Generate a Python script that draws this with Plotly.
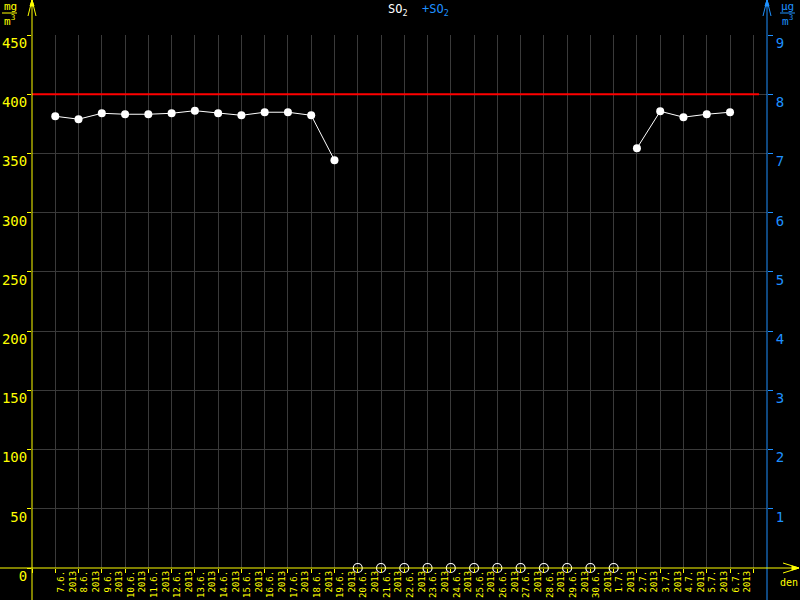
import plotly.graph_objects as go

# ---- data ----
dates = ["7.6.", "8.6.", "9.6.", "10.6.", "11.6.", "12.6.", "13.6.", "14.6.", "15.6.",
         "16.6.", "17.6.", "18.6.", "19.6.", "20.6.", "21.6.", "22.6.", "23.6.", "24.6.",
         "25.6.", "26.6.", "27.6.", "28.6.", "29.6.", "30.6.", "1.7.", "2.7.", "3.7.",
         "4.7.", "5.7.", "6.7."]
year = "2013"
so2 = [381.4, 378.9, 383.9, 383.1, 383.1, 383.9, 386.1, 383.9, 382.2, 384.8, 384.8,
       382.2, 344.3, None, None, None, None, None, None, None, None, None, None, None,
       None, 354.4, 385.6, 380.6, 383.1, 384.8]
limit = 400
left_ticks = [0, 50, 100, 150, 200, 250, 300, 350, 400, 450]
right_ticks = [1, 2, 3, 4, 5, 6, 7, 8, 9]

# ---- style ----
YEL = "#ffff00"
BLUE = "#1e90ff"
GRID = "#3a3a3a"
FONT = "DejaVu Sans Mono"

L, R, T, B = 32, 33, 35, 32
W, H = 800, 600
PW, PH = W - L - R, H - T - B


def px(x):
    return (x - L) / PW


def py(y):
    return (H - B - y) / PH


idx = list(range(len(dates)))
missing = [i for i, v in enumerate(so2) if v is None]

fig = go.Figure()
fig.add_trace(go.Scatter(
    x=idx, y=so2, mode="lines+markers", connectgaps=False,
    line=dict(color="white", width=1),
    marker=dict(color="white", size=8),
    hoverinfo="skip"))
fig.add_trace(go.Scatter(
    x=missing, y=[0] * len(missing), mode="markers", cliponaxis=False,
    marker=dict(symbol="circle-open", color="white", size=9, line=dict(width=1.2, color="white")),
    hoverinfo="skip"))
# empty trace so the right-hand axis gets drawn
fig.add_trace(go.Scatter(x=[None], y=[None], yaxis="y2", mode="markers", hoverinfo="skip"))

shapes = []
# limit line
shapes.append(dict(type="line", xref="x", yref="y", x0=-1, x1=30.25, y0=limit, y1=limit,
                   line=dict(color="#ff0000", width=2), layer="above"))
# axes lines extending beyond plot
shapes.append(dict(type="line", xref="paper", yref="paper", x0=px(32), x1=px(32), y0=py(0), y1=py(600),
                   line=dict(color=YEL, width=1)))
shapes.append(dict(type="line", xref="paper", yref="paper", x0=px(767), x1=px(767), y0=py(0), y1=py(600),
                   line=dict(color=BLUE, width=1)))
shapes.append(dict(type="line", xref="paper", yref="paper", x0=px(0), x1=px(797), y0=py(568), y1=py(568),
                   line=dict(color=YEL, width=1)))


def arrow_up(cx, color):
    p = "M {a},{b} L {c},{d} L {e},{f}".format(a=px(cx - 4), b=py(16), c=px(cx), d=py(0), e=px(cx + 4), f=py(16))
    shapes.append(dict(type="path", xref="paper", yref="paper", path=p, line=dict(color=color, width=1)))
    t = "M {a},{b} L {c},{d} L {e},{f} Z".format(a=px(cx - 2), b=py(6), c=px(cx), d=py(0), e=px(cx + 2), f=py(6))
    shapes.append(dict(type="path", xref="paper", yref="paper", path=t, fillcolor=color,
                       line=dict(color=color, width=1)))


arrow_up(32, YEL)
arrow_up(767, BLUE)
p = "M {a},{b} L {c},{d} L {e},{f}".format(a=px(783), b=py(563), c=px(799), d=py(568), e=px(783), f=py(573))
shapes.append(dict(type="path", xref="paper", yref="paper", path=p, line=dict(color=YEL, width=1)))
t = "M {a},{b} L {c},{d} L {e},{f} Z".format(a=px(792), b=py(566), c=px(799), d=py(568), e=px(792), f=py(570))
shapes.append(dict(type="path", xref="paper", yref="paper", path=t, fillcolor=YEL, line=dict(color=YEL, width=1)))
# unit fraction lines
shapes.append(dict(type="line", xref="paper", yref="paper", x0=px(2), x1=px(17), y0=py(13), y1=py(13),
                   line=dict(color=YEL, width=1)))
shapes.append(dict(type="line", xref="paper", yref="paper", x0=px(780), x1=px(795), y0=py(13), y1=py(13),
                   line=dict(color=BLUE, width=1)))

annotations = [
    dict(xref="paper", yref="paper", x=px(418), y=py(10), text="SO<sub>2</sub>  <span style='color:%s'>+SO<sub>2</sub></span>" % BLUE,
         showarrow=False, font=dict(family=FONT, size=12, color="white"), xanchor="center", yanchor="middle"),
    dict(xref="paper", yref="paper", x=px(10), y=py(6), text="mg", showarrow=False,
         font=dict(family=FONT, size=11, color=YEL), xanchor="center", yanchor="middle"),
    dict(xref="paper", yref="paper", x=px(10), y=py(20), text="m<sup>3</sup>", showarrow=False,
         font=dict(family=FONT, size=11, color=YEL), xanchor="center", yanchor="middle"),
    dict(xref="paper", yref="paper", x=px(788), y=py(6), text="µg", showarrow=False,
         font=dict(family=FONT, size=11, color=BLUE), xanchor="center", yanchor="middle"),
    dict(xref="paper", yref="paper", x=px(788), y=py(20), text="m<sup>3</sup>", showarrow=False,
         font=dict(family=FONT, size=11, color=BLUE), xanchor="center", yanchor="middle"),
    dict(xref="paper", yref="paper", x=px(789), y=py(582), text="den", showarrow=False,
         font=dict(family=FONT, size=10, color=YEL), xanchor="center", yanchor="middle"),
]

fig.update_layout(
    width=W, height=H, margin=dict(l=L, r=R, t=T, b=B, autoexpand=False),
    paper_bgcolor="black", plot_bgcolor="black", showlegend=False,
    shapes=shapes, annotations=annotations,
    xaxis=dict(range=[-1.0, 30.59], tickmode="array", automargin=False,
               tickvals=[i + 0.5 for i in idx],
               ticktext=["%s<br>%s" % (d, year) for d in dates],
               tickangle=-90, ticks="", showgrid=False, zeroline=False, showline=False,
               tickfont=dict(family=FONT, size=9, color=YEL),
               minor=dict(tickmode="linear", tick0=0, dtick=1, showgrid=True, gridcolor=GRID,
                          gridwidth=1, ticks="outside", ticklen=4, tickcolor=YEL)),
    yaxis=dict(range=[0, 450], tickmode="array", tickvals=left_ticks, automargin=False,
               ticktext=[str(v) for v in left_ticks],
               showgrid=True, gridcolor=GRID, gridwidth=1, zeroline=False, showline=False,
               ticks="outside", ticklen=4, tickcolor=YEL, ticklabelshift=8, ticklabelstandoff=-3,
               tickfont=dict(family=FONT, size=14, color=YEL)),
    yaxis2=dict(range=[0, 9], overlaying="y", side="right", tickmode="array", automargin=False,
                tickvals=right_ticks, ticktext=[str(v) for v in right_ticks],
                showgrid=False, zeroline=False, showline=False,
                ticks="outside", ticklen=5, tickcolor=BLUE, ticklabelshift=8,
                tickfont=dict(family=FONT, size=14, color=BLUE)),
)

fig.write_html("out.html", config={"displayModeBar": False},
               post_script="document.body.style.margin='0';document.body.style.overflow='hidden';document.body.style.background='black';")
